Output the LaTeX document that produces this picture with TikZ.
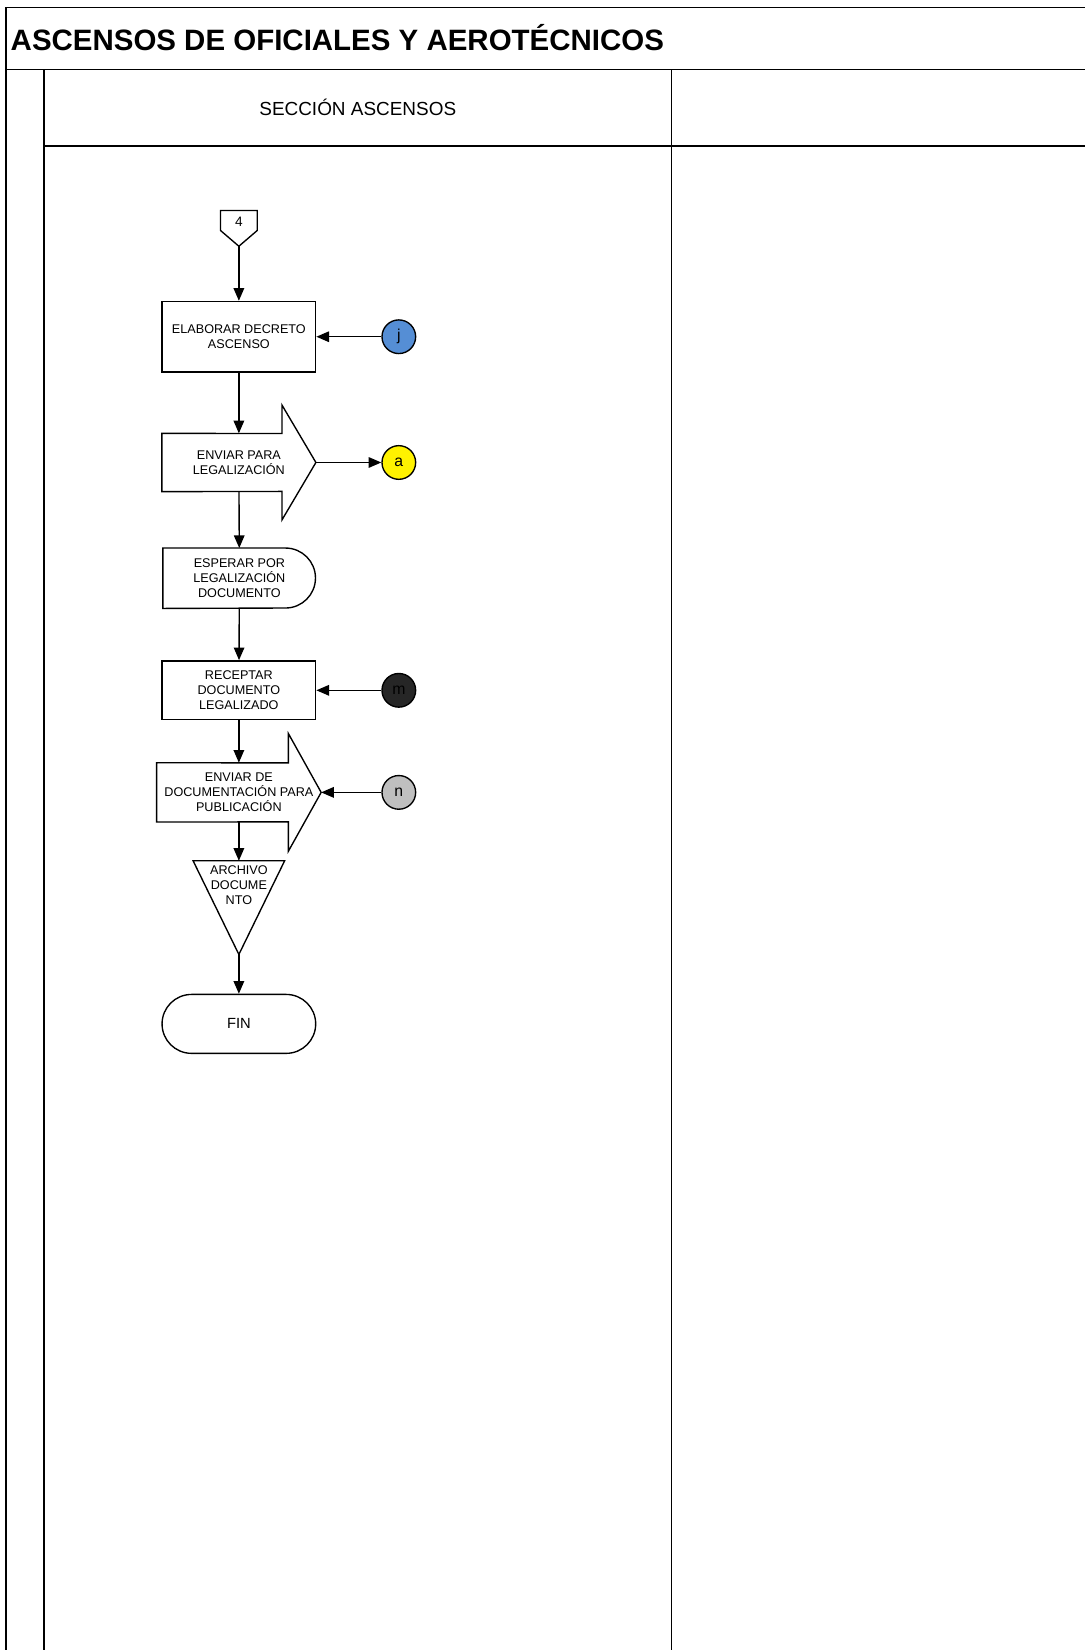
\documentclass[tikz,border=0pt]{standalone}
\usepackage{fontspec}
\setmainfont{Liberation Sans}
\usetikzlibrary{arrows.meta,shapes.misc}
\definecolor{jblue}{RGB}{85,142,213}
\definecolor{mdark}{RGB}{38,38,38}
\definecolor{ngrey}{RGB}{191,191,191}
\tikzset{
  lane/.style={line width=1.6pt},
  shp/.style={line width=1.3pt},
  txt/.style={align=center,inner sep=0pt,font=\fontsize{12}{14.5}\selectfont},
  procbox/.style={txt,draw,shp,rectangle,minimum width=146pt},
  conn/.style={circle,draw,shp,minimum size=32pt,inner sep=0pt,font=\fontsize{15}{15}\selectfont},
  flow/.style={shp,-{Triangle[length=12pt,width=10pt]}},
}
\begin{document}
\begin{tikzpicture}[x=1pt,y=-1pt]
\useasboundingbox (0,0) rectangle (1031,1568);
\pgfmathsetmacro{\kcol}{227}
% frame and lanes
\draw[lane](1031,7)--(6,7)--(6,1568);
\draw[lane](6,66)--(1031,66);
\draw[lane](42,66)--(42,1568);
\draw[lane](42,139)--(1031,139);
\draw[lane](638,66)--(638,1568);
\node[anchor=west,inner sep=0pt,font=\bfseries\fontsize{28}{28}\selectfont] (title) at (10,36) {ASCENSOS DE OFICIALES Y AEROTÉCNICOS};
\node[inner sep=0pt,font=\fontsize{18}{18}\selectfont] (secc) at (340,102) {SECCIÓN ASCENSOS};
% off-page connector
\node[txt,font=\fontsize{13}{13}\selectfont] (c4) at (\kcol,211) {4};
\draw[shp](\kcol-17.5,200)--(\kcol+17.5,200)--(\kcol+17.5,219)--(\kcol,234)--(\kcol-17.5,219)--cycle;
\coordinate (c4tip) at (\kcol,234);
% steps
\node[procbox,minimum height=67pt] (elab) at (\kcol,320) {ELABORAR DECRETO\\ASCENSO};
\node[txt,minimum width=146pt,minimum height=55pt] (envl) at (\kcol,439.5) {ENVIAR PARA\\LEGALIZACIÓN};
\draw[shp](envl.north west)--(\kcol+41,412)--(\kcol+41,385)--(envl.east)--(\kcol+41,494)--(\kcol+41,467)--(envl.south west)--cycle;
\node[txt,minimum width=145pt,minimum height=57pt] (esp) at (\kcol+0.5,549.5) {ESPERAR POR\\LEGALIZACIÓN\\DOCUMENTO};
\draw[shp](esp.north west)--++(116.5,0) arc(-90:90:28.5)--(esp.south west)--cycle;
\node[procbox,minimum height=56pt] (rec) at (\kcol,656) {RECEPTAR\\DOCUMENTO\\LEGALIZADO};
\node[txt,minimum width=156pt,minimum height=56pt] (envd) at (\kcol,753) {ENVIAR DE\\DOCUMENTACIÓN PARA\\PUBLICACIÓN};
\draw[shp](envd.north west)--(\kcol+47,725)--(\kcol+47,697)--(envd.east)--(\kcol+47,809)--(\kcol+47,781)--(envd.south west)--cycle;
\node[txt] (arch) at (\kcol,841) {ARCHIVO\\DOCUME\\NTO};
\draw[shp](\kcol-43.5,818)--(\kcol+43.5,818)--(\kcol,907)--cycle;
\coordinate (archtop) at (\kcol,818);
\coordinate (archtip) at (\kcol,907);
\node[txt,draw,shp,rounded rectangle,minimum width=146pt,minimum height=56pt,font=\fontsize{14}{14}\selectfont] (fin) at (\kcol,973) {FIN};
% connectors
\node[conn,fill=jblue] (j) at (379,320) {j};
\node[conn,fill=yellow] (a) at (379,439.5) {a};
\node[conn,fill=mdark] (m) at (379,656) {m};
\node[conn,fill=ngrey] (n) at (379,753) {n};
\foreach \src/\dst in {c4tip/elab,elab/envl,envl/esp,esp/rec,rec/envd,envd/archtop,archtip/fin}{\draw[flow](\src)--(\dst);}
\draw[flow](j)--(elab);
\draw[flow](envl.east)--(a);
\draw[flow](m)--(rec);
\draw[flow](n)--(envd.east);
\end{tikzpicture}
\end{document}
